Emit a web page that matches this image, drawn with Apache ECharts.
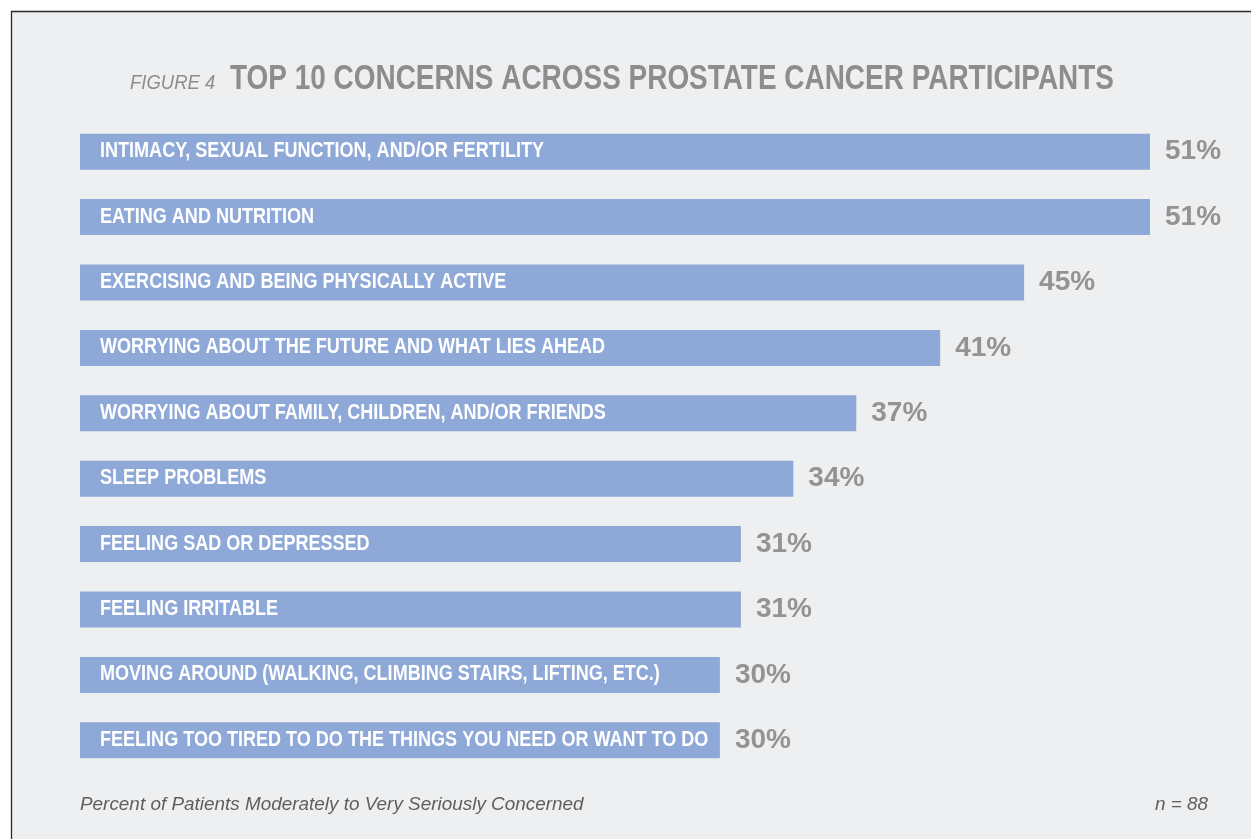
<!DOCTYPE html>
<html>
<head>
<meta charset="utf-8">
<script src="https://cdn.jsdelivr.net/npm/echarts@6/dist/echarts.min.js"></script>
<style>
html,body{margin:0;padding:0;background:#ffffff;}
#c{width:1251px;height:839px;}
</style>
</head>
<body>
<div id="c"></div>
<script>
// ---- data ----
const categories = [
  "INTIMACY, SEXUAL FUNCTION, AND/OR FERTILITY",
  "EATING AND NUTRITION",
  "EXERCISING AND BEING PHYSICALLY ACTIVE",
  "WORRYING ABOUT THE FUTURE AND WHAT LIES AHEAD",
  "WORRYING ABOUT FAMILY, CHILDREN, AND/OR FRIENDS",
  "SLEEP PROBLEMS",
  "FEELING SAD OR DEPRESSED",
  "FEELING IRRITABLE",
  "MOVING AROUND (WALKING, CLIMBING STAIRS, LIFTING, ETC.)",
  "FEELING TOO TIRED TO DO THE THINGS YOU NEED OR WANT TO DO"
];
// bar lengths (percent)
const values = [51, 51, 45, 41, 37, 34, 31.5, 31.5, 30.5, 30.5];
// printed percentage labels
const pctLabels = ["51%", "51%", "45%", "41%", "37%", "34%", "31%", "31%", "30%", "30%"];

const titlePrefix = "FIGURE 4";
const titleMain = "TOP 10 CONCERNS ACROSS PROSTATE CANCER PARTICIPANTS";
const footNote = "Percent of Patients Moderately to Very Seriously Concerned";
const sampleNote = "n = 88";

// ---- chart ----
const SANS = '"Liberation Sans", Arial, Helvetica, sans-serif';
const chart = echarts.init(document.getElementById('c'), null, {renderer: 'canvas'});

chart.setOption({
  backgroundColor: '#ffffff',
  animation: false,
  graphic: [
    {type: 'rect', z: -10, shape: {x: 11.5, y: 11.5, width: 1400, height: 1000},
     style: {fill: '#eeeff1', stroke: '#2a2a2a', lineWidth: 1.3}},
    {type: 'text', x: 130, y: 83, scaleX: 0.88,
     style: {text: titlePrefix, font: 'italic 300 21px ' + SANS, fill: '#8f8d8b', verticalAlign: 'middle'}},
    {type: 'text', x: 230, y: 79, scaleX: 0.81,
     style: {text: titleMain, font: 'bold 34.5px ' + SANS, fill: '#8f8d8b', verticalAlign: 'middle'}},
    {type: 'text', x: 80, y: 805, scaleX: 1.05,
     style: {text: footNote, font: 'italic 300 18px ' + SANS, fill: '#5e5e5e', verticalAlign: 'middle'}},
    {type: 'text', x: 1155, y: 805, scaleX: 1.05,
     style: {text: sampleNote, font: 'italic 300 18px ' + SANS, fill: '#5e5e5e', verticalAlign: 'middle'}}
  ],
  grid: {left: 80, top: 119, width: 1070, height: 654, containLabel: false},
  xAxis: {type: 'value', min: 0, max: 51, show: false},
  yAxis: {type: 'category', data: categories, inverse: true, show: false},
  series: [
    {
      type: 'bar', data: values, barWidth: 36, itemStyle: {color: '#8ea8d8'},
      label: {show: true, position: 'right', distance: 15,
        formatter: p => pctLabels[p.dataIndex],
        fontFamily: SANS, fontWeight: 'bold', fontSize: 28, color: '#939393'}
    },
    {
      type: 'custom', z: 5, silent: true,
      data: categories.map((c, i) => [0, i]),
      encode: {x: 0, y: 1},
      renderItem: function (params, api) {
        const pt = api.coord([0, api.value(1)]);
        return {
          type: 'text', x: pt[0] + 20, y: pt[1] - 0.5, scaleX: 0.82,
          style: {text: categories[params.dataIndex], font: 'bold 22px ' + SANS,
            fill: '#ffffff', verticalAlign: 'middle', align: 'left'}
        };
      }
    }
  ]
});
</script>
</body>
</html>
